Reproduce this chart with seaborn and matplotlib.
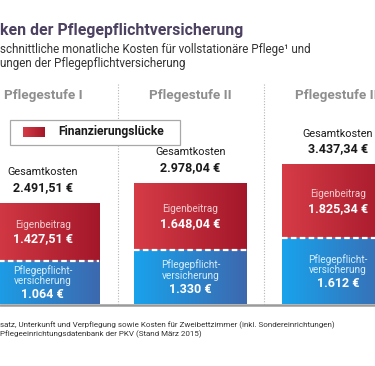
import numpy as np
import pandas as pd
import matplotlib.pyplot as plt
import seaborn as sns
from matplotlib.colors import LinearSegmentedColormap
from matplotlib.patches import Rectangle
from matplotlib.lines import Line2D

sns.set_style('white')
plt.rcParams['font.family'] = ['Roboto', 'DejaVu Sans']

# data
stufen = ['Pflegestufe I', 'Pflegestufe II', 'Pflegestufe III']
gesamt = [2491.51, 2978.04, 3437.34]
eigen = [1427.51, 1648.04, 1825.34]
pflege = [1064, 1330, 1612]
gesamt_txt = ['2.491,51 €', '2.978,04 €', '3.437,34 €']
eigen_txt = ['1.427,51 €', '1.648,04 €', '1.825,34 €']
pflege_txt = ['1.064 €', '1.330 €', '1.612 €']

df = pd.DataFrame({'stufe': stufen, 'gesamt': gesamt, 'eigen': eigen, 'pflege': pflege})

red_cmap = LinearSegmentedColormap.from_list('red', ['#d63c46', '#a3172a'])
blue_cmap = LinearSegmentedColormap.from_list('blue', ['#18a3ec', '#3d68ae'])

W, H = 375, 366
fig = plt.figure(figsize=(3.75, 3.66), dpi=100)
ax = fig.add_axes([0, 0, 1, 1])

bw = 0.76
sns.barplot(data=df, x='stufe', y='gesamt', color='#c0303a', width=bw, ax=ax, zorder=2)
sns.barplot(data=df, x='stufe', y='pflege', color='#2a8ad0', width=bw, ax=ax, zorder=3)

xlim = (-0.29, 2.25)
ylim = (-1523, 7469)

grad = np.linspace(0, 1, 256).reshape(1, -1)
for i, p in enumerate(ax.patches):
    x0, y0 = p.get_x(), p.get_y()
    w, h = p.get_width(), p.get_height()
    cmap = red_cmap if i < 3 else blue_cmap
    im = ax.imshow(grad, cmap=cmap, extent=[x0, x0 + w, y0, y0 + h],
                   aspect='auto', zorder=p.get_zorder() + 0.5, interpolation='bicubic')
    im.set_clip_path(p)

ax.set_xlim(*xlim)
ax.set_ylim(*ylim)
ax.set_axis_off()

for i in range(3):
    # dashed separator between the parts
    ax.plot([i - bw / 2, i + bw / 2], [pflege[i], pflege[i]], color='white',
            lw=1.6, ls=(0, (2.5, 1.5)), zorder=5)
    # totals above bars
    ax.annotate(gesamt_txt[i], (i, gesamt[i]), xytext=(0, 11), textcoords='offset points',
                ha='center', va='center', fontsize=9, fontweight='bold', color='#1a1a1a')
    ax.annotate('Gesamtkosten', (i, gesamt[i]), xytext=(0, 22), textcoords='offset points',
                ha='center', va='center', fontsize=7.8, color='#1a1a1a')
    # Eigenbeitrag
    mid_e = pflege[i] + eigen[i] / 2
    ax.annotate('Eigenbeitrag', (i, mid_e), xytext=(0, 5), textcoords='offset points',
                ha='center', va='center', fontsize=7.2, color='#f4cdd0', zorder=6)
    ax.annotate(eigen_txt[i], (i, mid_e), xytext=(0, -5), textcoords='offset points',
                ha='center', va='center', fontsize=9, fontweight='bold', color='white', zorder=6)
    # Pflegepflichtversicherung
    mid_p = pflege[i] / 2
    ax.annotate('Pflegepflicht-\nversicherung', (i, mid_p), xytext=(0, 5), textcoords='offset points',
                ha='center', va='center', fontsize=7.2, color='#d6eefc', linespacing=1.05, zorder=6)
    ax.annotate(pflege_txt[i], (i, mid_p), xytext=(0, -9), textcoords='offset points',
                ha='center', va='center', fontsize=9, fontweight='bold', color='white', zorder=6)
    # column heading
    fig.text(ax.transData.transform((i, 0))[0] / W, 1 - 96 / H, stufen[i], ha='center', va='center',
             fontsize=9.7, fontweight='bold', color='#8e8e8e')


def px(x, y):
    return x / W, 1 - y / H


# baseline
fig.add_artist(Line2D([0, 1], [1 - 305 / H] * 2, color='#9a9a9a', lw=1.8, zorder=1))
# dotted separators
for xs in [118, 264]:
    fig.add_artist(Line2D([xs / W] * 2, [1 - 84 / H, 1 - 304 / H], color='#b5b5b5',
                          lw=0.8, ls=(0, (1, 1.5)), zorder=0))

# legend box
fig.add_artist(Rectangle(px(10, 145), 170 / W, 25 / H, facecolor='white', edgecolor='#a8a8a8',
                         lw=0.9, zorder=3))
lax = fig.add_axes([23 / W, 1 - 137 / H, 22 / W, 10 / H], zorder=4)
lax.imshow(grad, cmap=red_cmap, aspect='auto')
lax.set_axis_off()
fig.text(*px(58, 132), 'Finanzierungslücke', ha='left', va='center', fontsize=8.7,
         fontweight='bold', color='#1a1a1a', zorder=5)

# title and subtitle
fig.text(*px(0, 31), 'ken der Pflegepflichtversicherung', ha='left', va='center',
         fontsize=11.4, fontweight='bold', color='#4c4160')
fig.text(*px(0, 50), 'schnittliche monatliche Kosten für vollstationäre Pflege¹ und', ha='left',
         va='center', fontsize=8.4, color='#333333')
fig.text(*px(0, 63), 'ungen der Pflegepflichtversicherung', ha='left', va='center',
         fontsize=8.4, color='#333333')

# footnotes
fig.text(*px(0, 325), 'satz, Unterkunft und Verpflegung sowie Kosten für Zweibettzimmer (inkl. Sondereinrichtungen)',
         ha='left', va='center', fontsize=5.8, color='#333333')
fig.text(*px(0, 334), 'Pflegeeinrichtungsdatenbank der PKV (Stand März 2015)', ha='left', va='center',
         fontsize=5.8, color='#333333')

fig.savefig('out.png', dpi=100, facecolor='white')
